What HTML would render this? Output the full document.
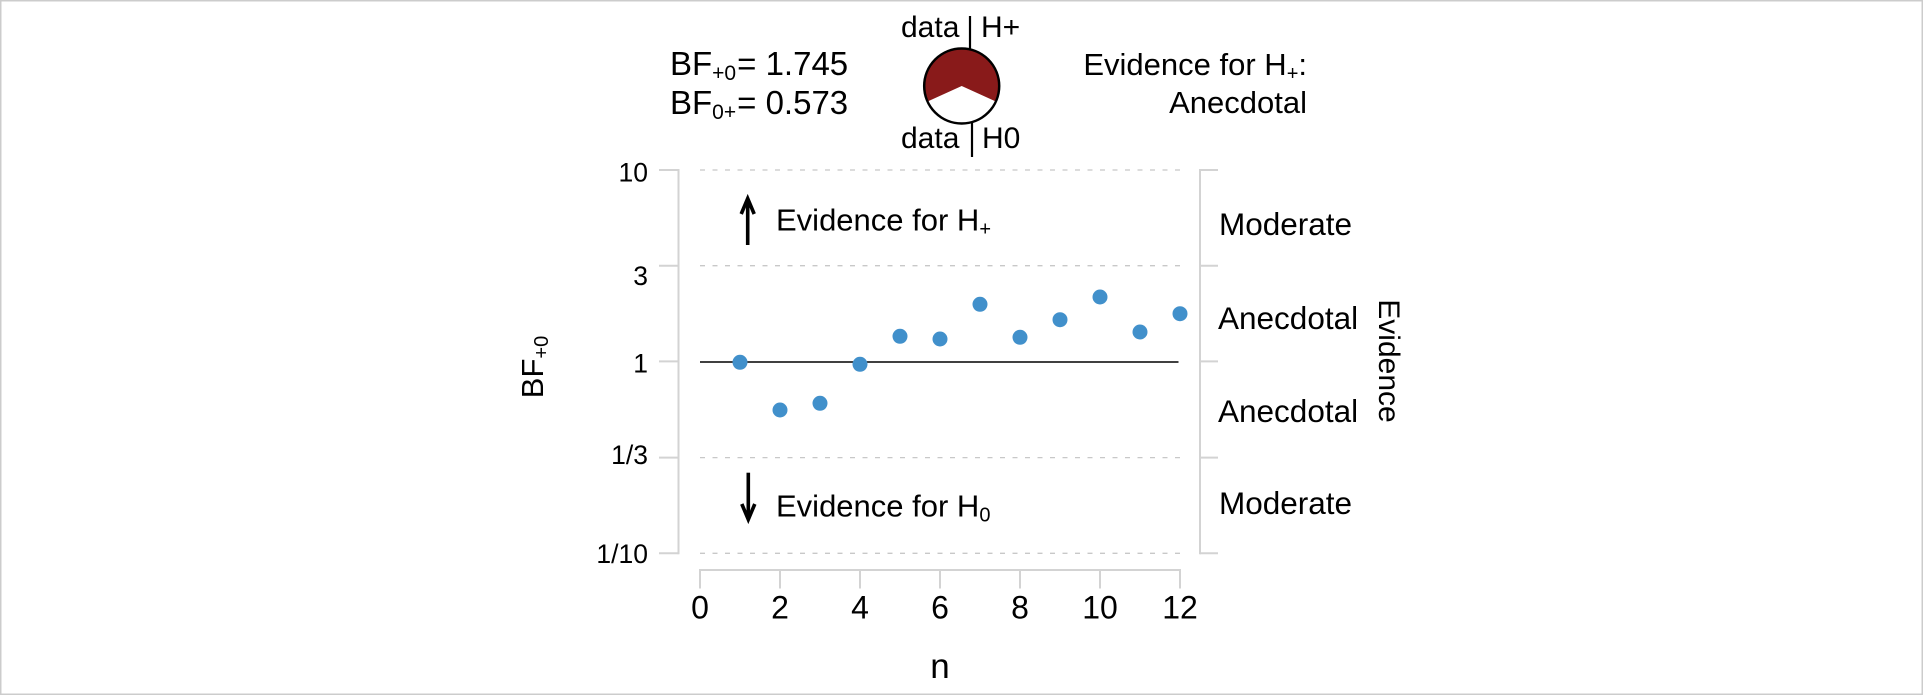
<!DOCTYPE html>
<html>
<head>
<meta charset="utf-8">
<style>
  html, body { margin: 0; padding: 0; background: #ffffff; }
  body { width: 1923px; height: 695px; overflow: hidden; }
  svg { display: block; }
  text { font-family: "Liberation Sans", Arial, sans-serif; fill: #000; }
</style>
</head>
<body>
<svg width="1923" height="695" viewBox="0 0 1923 695" xmlns="http://www.w3.org/2000/svg">
  <!-- outer border -->
  <rect x="0.75" y="0.75" width="1921.5" height="693.5" fill="#ffffff" stroke="#cccccc" stroke-width="1.5"/>

  <!-- top-left BF text -->
  <text x="670" y="75" font-size="33">BF<tspan font-size="21" dy="5">+0</tspan><tspan dy="-5" dx="1">= 1.745</tspan></text>
  <text x="670" y="114" font-size="33">BF<tspan font-size="21" dy="5">0+</tspan><tspan dy="-5" dx="1">= 0.573</tspan></text>

  <!-- pie -->
  <text x="901" y="37" font-size="30">data</text>
  <text x="981" y="37" font-size="30">H+</text>
  <line x1="970" y1="16" x2="970" y2="49" stroke="#000" stroke-width="2.2"/>
  <text x="901" y="148" font-size="30">data</text>
  <text x="982" y="148" font-size="30">H0</text>
  <line x1="972" y1="123" x2="972" y2="157" stroke="#000" stroke-width="2.2"/>

  <circle cx="961.7" cy="86" r="37.5" fill="#ffffff"/>
  <path d="M961.7,86 L927.55,101.49 A37.5,37.5 0 1 1 995.85,101.49 Z" fill="#891a1a"/>
  <circle cx="961.7" cy="86" r="37.5" fill="none" stroke="#000" stroke-width="2.5"/>

  <!-- top-right evidence text -->
  <text x="1307" y="75" font-size="31" text-anchor="end">Evidence for H<tspan font-size="20" dy="5">+</tspan><tspan dy="-5">:</tspan></text>
  <text x="1307" y="113" font-size="31" text-anchor="end">Anecdotal</text>

  <!-- dashed grid lines -->
  <g stroke="#c8c8c8" stroke-width="1.3" stroke-dasharray="5 7.5">
    <line x1="700" y1="170" x2="1180" y2="170"/>
    <line x1="700" y1="265.7" x2="1180" y2="265.7"/>
    <line x1="700" y1="457.6" x2="1180" y2="457.6"/>
    <line x1="700" y1="553.3" x2="1180" y2="553.3"/>
  </g>

  <!-- BF = 1 line -->
  <line x1="700" y1="362" x2="1178.5" y2="362" stroke="#000" stroke-width="1.6"/>

  <!-- left axis -->
  <g stroke="#d3d3d3" stroke-width="2">
    <line x1="678.5" y1="169" x2="678.5" y2="554.3"/>
    <line x1="659" y1="170" x2="678.5" y2="170"/>
    <line x1="659" y1="265.7" x2="678.5" y2="265.7"/>
    <line x1="659" y1="361.4" x2="678.5" y2="361.4"/>
    <line x1="659" y1="457.6" x2="678.5" y2="457.6"/>
    <line x1="659" y1="553.3" x2="678.5" y2="553.3"/>
  </g>
  <!-- right axis -->
  <g stroke="#d3d3d3" stroke-width="2">
    <line x1="1200" y1="169" x2="1200" y2="554.3"/>
    <line x1="1200" y1="170" x2="1218" y2="170"/>
    <line x1="1200" y1="265.7" x2="1218" y2="265.7"/>
    <line x1="1200" y1="361.4" x2="1218" y2="361.4"/>
    <line x1="1200" y1="457.6" x2="1218" y2="457.6"/>
    <line x1="1200" y1="553.3" x2="1218" y2="553.3"/>
  </g>
  <!-- bottom axis -->
  <g stroke="#d3d3d3" stroke-width="2">
    <line x1="699" y1="570" x2="1181" y2="570"/>
    <line x1="700" y1="570" x2="700" y2="588.5"/>
    <line x1="780" y1="570" x2="780" y2="588.5"/>
    <line x1="860" y1="570" x2="860" y2="588.5"/>
    <line x1="940" y1="570" x2="940" y2="588.5"/>
    <line x1="1020" y1="570" x2="1020" y2="588.5"/>
    <line x1="1100" y1="570" x2="1100" y2="588.5"/>
    <line x1="1180" y1="570" x2="1180" y2="588.5"/>
  </g>

  <!-- y tick labels -->
  <g font-size="26.5" text-anchor="end">
    <text x="648" y="181.5">10</text>
    <text x="648" y="285">3</text>
    <text x="648" y="372.5">1</text>
    <text x="648" y="464">1/3</text>
    <text x="648" y="563">1/10</text>
  </g>

  <!-- x tick labels -->
  <g font-size="32" text-anchor="middle">
    <text x="700" y="618.5">0</text>
    <text x="780" y="618.5">2</text>
    <text x="860" y="618.5">4</text>
    <text x="940" y="618.5">6</text>
    <text x="1020" y="618.5">8</text>
    <text x="1100" y="618.5">10</text>
    <text x="1180" y="618.5">12</text>
  </g>

  <!-- x title -->
  <text x="940" y="678" font-size="35" text-anchor="middle">n</text>

  <!-- y title -->
  <text transform="translate(543,367) rotate(-90)" font-size="31" text-anchor="middle">BF<tspan font-size="20" dy="5">+0</tspan></text>

  <!-- right title -->
  <text transform="translate(1379,361) rotate(90)" font-size="30" text-anchor="middle">Evidence</text>

  <!-- right evidence labels -->
  <g font-size="31.5">
    <text x="1219" y="235">Moderate</text>
    <text x="1218" y="329">Anecdotal</text>
    <text x="1218" y="422">Anecdotal</text>
    <text x="1219" y="514">Moderate</text>
  </g>

  <!-- arrows -->
  <g stroke="#000" stroke-width="3.6" fill="none" stroke-linecap="butt">
    <line x1="747.7" y1="245" x2="747.7" y2="200"/>
    <polyline points="741.2,214 747.7,198.5 754.2,214"/>
    <line x1="748.3" y1="472.7" x2="748.3" y2="518"/>
    <polyline points="741.8,504 748.3,519.5 754.8,504"/>
  </g>

  <!-- arrow text -->
  <text x="776" y="230.7" font-size="31">Evidence for H<tspan font-size="20" dy="5">+</tspan></text>
  <text x="776" y="516.7" font-size="31">Evidence for H<tspan font-size="20" dy="5">0</tspan></text>

  <!-- data points -->
  <g fill="#4190cb">
    <circle cx="740" cy="362.3" r="7.5"/>
    <circle cx="780" cy="410" r="7.5"/>
    <circle cx="820" cy="403.3" r="7.5"/>
    <circle cx="860" cy="364.3" r="7.5"/>
    <circle cx="900" cy="336.3" r="7.5"/>
    <circle cx="940" cy="339" r="7.5"/>
    <circle cx="980" cy="304.3" r="7.5"/>
    <circle cx="1020" cy="337.3" r="7.5"/>
    <circle cx="1060" cy="319.7" r="7.5"/>
    <circle cx="1100" cy="297" r="7.5"/>
    <circle cx="1140" cy="332" r="7.5"/>
    <circle cx="1180" cy="313.7" r="7.5"/>
  </g>
</svg>
</body>
</html>
